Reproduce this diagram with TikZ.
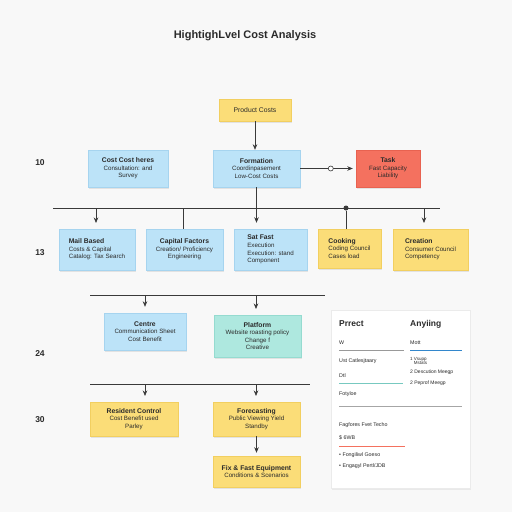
\documentclass[tikz,border=0pt]{standalone}
\usepackage{fontspec}
\setmainfont{Liberation Sans}
\usetikzlibrary{arrows.meta,shadows}
\definecolor{bgc}{HTML}{F8F8F8}
\definecolor{bluef}{HTML}{BCE3F8}
\definecolor{blued}{HTML}{A6D4EF}
\definecolor{yelf}{HTML}{FBDD78}
\definecolor{yeld}{HTML}{F2CF60}
\definecolor{redf}{HTML}{F4715F}
\definecolor{redd}{HTML}{E86250}
\definecolor{tealf}{HTML}{AEE8DF}
\definecolor{teald}{HTML}{95DBD0}
\definecolor{linec}{HTML}{3A3A3A}
\definecolor{txt}{HTML}{2A2A2A}
\newcommand\hdf{\fontsize{6.8}{8}\selectfont\bfseries}
\tikzset{
  box/.style={rectangle, inner sep=2pt, align=center, text=txt,
    font=\fontsize{6.2}{7.6}\selectfont,
    drop shadow={opacity=0.18, shadow xshift=1.2pt, shadow yshift=-1.8pt}},
  bluebox/.style={box, fill=bluef, draw=blued, line width=0.4pt},
  yelbox/.style={box, fill=yelf, draw=yeld, line width=0.4pt},
  redbox/.style={box, fill=redf, draw=redd, line width=0.4pt},
  tealbox/.style={box, fill=tealf, draw=teald, line width=0.4pt},
  conn/.style={draw=linec, line width=0.7pt},
  arr/.style={conn, -{Stealth[length=5.5pt,width=4.5pt]}},
  rowlab/.style={font=\fontsize{8.5}{9}\selectfont\bfseries, text=txt},
  ptxt/.style={anchor=west, inner sep=0pt, text=txt, font=\fontsize{5.3}{6}\selectfont},
  phd/.style={anchor=west, inner sep=0pt, text=txt, font=\fontsize{8.5}{9}\selectfont\bfseries},
}
\begin{document}
\begin{tikzpicture}[x=1pt,y=-1pt]
\fill[bgc] (0,0) rectangle (512,512);
\useasboundingbox (0,0) rectangle (512,512);

% title
\node[font=\fontsize{11}{12}\selectfont\bfseries, text=txt] (title) at (245,36) {HightighLvel Cost Analysis};

% row labels
\node[rowlab] (l10) at (40,163) {10};
\node[rowlab] (l13) at (40,253) {13};
\node[rowlab] (l24) at (40,354) {24};
\node[rowlab] (l30) at (40,420) {30};

% top
\node[yelbox, minimum width=72pt, minimum height=22pt, font=\fontsize{6.8}{8}\selectfont] (pc) at (255,110) {Product Costs};

% row 1
\node[bluebox, minimum width=80pt, minimum height=37pt] (c1) at (128,168.5) {{\hdf Cost Cost heres}\\Consultation: and\\Survey};
\node[bluebox, minimum width=87pt, minimum height=37pt] (form) at (256.5,168.5) {{\hdf Formation}\\Coordinpasement\\Low-Cost Costs};
\node[redbox, minimum width=64pt, minimum height=37pt] (red) at (388,168.5) {{\hdf Task}\\Fast Capacity\\Liability};

\draw[arr] (pc.south) -- (pc.south |- form.north);
\draw[arr, shorten >=3pt] (form.east) -- node[pos=0.55, circle, draw=linec, fill=white, line width=0.6pt, inner sep=0pt, minimum size=5pt] (oc) {} (red.west);

% bus 1
\coordinate (b1L) at (53,208);
\coordinate (b1R) at (440,208);
\draw[conn] (b1L) -- (b1R);
\draw[conn] (form.south) -- (form.south |- b1L);

% row 2
\node[bluebox, minimum width=76pt, minimum height=41pt, align=left] (r2a) at (97,249.5) {{\hdf Mail Based}\\Costs \& Capital\\Catalog: Tax Search};
\node[bluebox, minimum width=77pt, minimum height=41pt] (r2b) at (184.5,249.5) {{\hdf Capital Factors}\\Creation/ Proficiency\\Engineering};
\node[bluebox, minimum width=73pt, minimum height=41pt, align=left] (r2c) at (270.5,249.5) {{\hdf Sat Fast}\\Execution\\Execution: stand\\Component};
\node[yelbox, minimum width=63pt, minimum height=39pt, align=left] (r2d) at (349.5,248.5) {{\hdf Cooking}\\Coding Council\\Cases load};
\node[yelbox, minimum width=75pt, minimum height=41pt, align=left] (r2e) at (430.5,249.5) {{\hdf Creation}\\Consumer Council\\Competency};

\draw[arr, shorten >=6pt] (96,208) -- (96,229);
\draw[conn] (183,208) -- (183,229);
\draw[arr, shorten >=6pt] (form.south |- b1L) -- (form.south |- r2c.north);
\node[circle, fill=linec, inner sep=0pt, minimum size=5pt] (dot) at (346,208) {};
\draw[conn] (dot) -- (dot |- r2d.north);
\draw[arr, shorten >=6pt] (424,208) -- (424,229);

% bus 2 and row 3
\coordinate (b2L) at (90,295);
\coordinate (b2R) at (325,295);
\draw[conn] (b2L) -- (b2R);
\node[bluebox, minimum width=82pt, minimum height=37pt] (r3a) at (145,331.5) {{\hdf Centre}\\Communication Sheet\\Cost Benefit};
\node[tealbox, minimum width=87pt, minimum height=42pt] (r3b) at (257.5,336) {{\hdf Platform}\\Website roasting policy\\Change f\\Creative};
\draw[arr, shorten >=6pt] (145,295) -- (r3a.north);
\draw[arr, shorten >=6pt] (256,295) -- (256,315);

% bus 3 and row 4
\coordinate (b3L) at (90,384);
\coordinate (b3R) at (310,384);
\draw[conn] (b3L) -- (b3R);
\node[yelbox, minimum width=88pt, minimum height=34pt] (r4a) at (134,419) {{\hdf Resident Control}\\Cost Benefit used\\Parley};
\node[yelbox, minimum width=87pt, minimum height=34pt] (r4b) at (256.5,419) {{\hdf Forecasting}\\Public Viewing Yield\\Standby};
\node[yelbox, minimum width=87pt, minimum height=31pt] (r5) at (256.5,471.5) {{\hdf Fix \& Fast Equipment}\\Conditions \& Scenarios};
\draw[arr, shorten >=6pt] (145,384) -- (145,402);
\draw[arr, shorten >=6pt] (256,384) -- (256,402);
\draw[arr, shorten >=3pt] (r4b.south) -- (r5.north);

% right panel
\node[rectangle, fill=white, draw=black!8, minimum width=139pt, minimum height=178pt, inner sep=0pt,
  drop shadow={opacity=0.12, shadow xshift=1pt, shadow yshift=-1.5pt}] (card) at (400.5,399) {};
\node[phd] (ph1) at (339,324) {Prrect};
\node[phd] (ph2) at (410,324) {Anyiing};
\node[ptxt] (pw) at (339,343) {W};
\node[ptxt] (pm) at (410,343) {Mott};
\draw[gray!80, line width=0.7pt] (339,350) -- (404,350);
\draw[blue!45!cyan!60!gray, line width=0.7pt] (410,350) -- (462,350);
\node[ptxt] (pu) at (339,361) {Ust Catlesjtaary};
\node[ptxt, align=left, font=\fontsize{4.5}{4.8}\selectfont] (p1) at (410,361) {1 Vsupp\\\phantom{1 }Mstats};
\node[ptxt, font=\fontsize{5}{5.5}\selectfont] (p2) at (410,372) {2 Descution Meegp};
\node[ptxt, font=\fontsize{5}{5.5}\selectfont] (p3) at (410,383) {2 Peprof Meegp};
\node[ptxt] (pd) at (339,376) {Dtl};
\draw[teald!80!teal, line width=0.7pt] (339,383) -- (403,383);
\node[ptxt] (pf) at (339,394) {Fotyloe};
\draw[gray!70, line width=0.7pt] (339,406) -- (462,406);
\node[ptxt] (pg) at (339,425) {Fagfores Fvet Techo};
\node[ptxt] (ps) at (339,438) {\$ 6WB};
\draw[redf, line width=0.7pt] (339,446) -- (405,446);
\node[ptxt] (pb1) at (339,455) {• Fongiliwl Goeso};
\node[ptxt] (pb2) at (339,466) {• Engagyl Pertl/JDB};
\end{tikzpicture}
\end{document}
